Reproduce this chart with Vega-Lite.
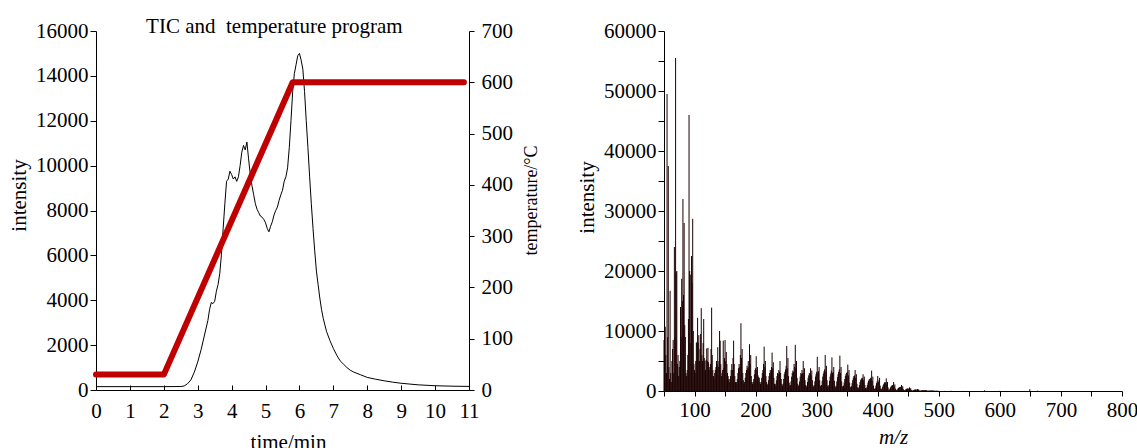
{
"$schema": "https://vega.github.io/schema/vega-lite/v6.json",
"autosize": {"type": "pad"},
"padding": {"left": 8, "top": 16, "right": 0, "bottom": 0},
"bounds": "flush",
"spacing": 195,
"config": {
  "view": {"stroke": null},
  "font": "Liberation Serif",
  "axis": {"labelFont": "Liberation Serif", "labelFontSize": 21, "titleFont": "Liberation Serif", "titleFontSize": 21, "titleFontWeight": "normal", "labelColor": "black", "titleColor": "black", "domainColor": "black", "tickColor": "black", "grid": false, "labelFlush": false, "labelOverlap": false, "domainWidth": 1, "tickWidth": 1}
},
"datasets": {
  "tic": [
{"t":0,"I":150},{"t":1,"I":150},{"t":2,"I":150},{"t":2.5,"I":155},{"t":2.6,"I":180},{"t":2.7,"I":280},{"t":2.8,"I":450},{"t":2.9,"I":800},{"t":3.0,"I":1250},{"t":3.1,"I":1800},{"t":3.2,"I":2450},{"t":3.3,"I":3100},{"t":3.35,"I":3600},{"t":3.4,"I":3900},{"t":3.45,"I":3850},{"t":3.5,"I":3950},{"t":3.55,"I":4400},{"t":3.6,"I":4700},{"t":3.65,"I":5200},{"t":3.7,"I":6050},{"t":3.75,"I":7200},{"t":3.8,"I":8300},{"t":3.85,"I":9300},{"t":3.9,"I":9400},{"t":3.95,"I":9750},{"t":4.0,"I":9600},{"t":4.05,"I":9400},{"t":4.1,"I":9500},{"t":4.15,"I":9300},{"t":4.2,"I":9500},{"t":4.25,"I":10000},{"t":4.3,"I":10600},{"t":4.35,"I":10900},{"t":4.4,"I":10700},{"t":4.45,"I":11050},{"t":4.5,"I":10300},{"t":4.55,"I":9600},{"t":4.6,"I":9100},{"t":4.65,"I":8700},{"t":4.7,"I":8300},{"t":4.75,"I":8050},{"t":4.8,"I":7900},{"t":4.85,"I":7750},{"t":4.9,"I":7700},{"t":4.95,"I":7600},{"t":5.0,"I":7450},{"t":5.05,"I":7200},{"t":5.1,"I":7050},{"t":5.15,"I":7300},{"t":5.2,"I":7500},{"t":5.25,"I":7800},{"t":5.3,"I":8000},{"t":5.35,"I":8150},{"t":5.4,"I":8450},{"t":5.45,"I":8700},{"t":5.5,"I":8900},{"t":5.55,"I":9300},{"t":5.6,"I":9500},{"t":5.65,"I":9900},{"t":5.7,"I":10800},{"t":5.75,"I":12000},{"t":5.8,"I":13300},{"t":5.85,"I":14100},{"t":5.9,"I":14500},{"t":5.95,"I":14900},{"t":6.0,"I":15000},{"t":6.05,"I":14700},{"t":6.1,"I":14300},{"t":6.15,"I":13300},{"t":6.2,"I":12000},{"t":6.25,"I":10800},{"t":6.3,"I":9500},{"t":6.35,"I":8300},{"t":6.4,"I":7200},{"t":6.45,"I":6200},{"t":6.5,"I":5300},{"t":6.55,"I":4700},{"t":6.6,"I":4100},{"t":6.65,"I":3600},{"t":6.7,"I":3200},{"t":6.8,"I":2600},{"t":6.9,"I":2200},{"t":7.0,"I":1850},{"t":7.1,"I":1550},{"t":7.2,"I":1300},{"t":7.3,"I":1150},{"t":7.4,"I":1000},{"t":7.5,"I":880},{"t":7.6,"I":800},{"t":7.8,"I":680},{"t":8.0,"I":560},{"t":8.25,"I":480},{"t":8.5,"I":410},{"t":8.75,"I":350},{"t":9.0,"I":300},{"t":9.5,"I":230},{"t":10.0,"I":190},{"t":10.5,"I":170},{"t":11.0,"I":160}
  ],
  "temp": [{"t":0,"T":30},{"t":2,"T":30},{"t":5.8,"T":600},{"t":10.85,"T":600}],
  "ms": [
{"m":50,"i":8500},{"m":51,"i":10500},{"m":52,"i":10700},{"m":53,"i":6000},{"m":54,"i":3000},{"m":55,"i":49500},{"m":56,"i":9000},{"m":57,"i":37500},{"m":58,"i":4000},{"m":59,"i":2000},
{"m":60,"i":16700},{"m":61,"i":3000},{"m":62,"i":1500},{"m":63,"i":5000},{"m":64,"i":7000},{"m":65,"i":8500},{"m":66,"i":3000},{"m":67,"i":24000},{"m":68,"i":9000},{"m":69,"i":55500},
{"m":70,"i":19800},{"m":71,"i":20000},{"m":72,"i":4500},{"m":73,"i":6000},{"m":74,"i":2500},{"m":75,"i":4000},{"m":76,"i":5000},{"m":77,"i":14000},{"m":78,"i":9000},{"m":79,"i":18700},
{"m":80,"i":15000},{"m":81,"i":32000},{"m":82,"i":16000},{"m":83,"i":28000},{"m":84,"i":11000},{"m":85,"i":9000},{"m":86,"i":3000},{"m":87,"i":2500},{"m":88,"i":3500},{"m":89,"i":6000},
{"m":90,"i":12000},{"m":91,"i":46000},{"m":92,"i":20000},{"m":93,"i":19400},{"m":94,"i":8000},{"m":95,"i":22500},{"m":96,"i":18000},{"m":97,"i":28700},{"m":98,"i":10000},{"m":99,"i":4500},
{"m":100,"i":3500},{"m":101,"i":3000},{"m":102,"i":5000},{"m":103,"i":8000},{"m":104,"i":8200},{"m":105,"i":12200},{"m":106,"i":8000},{"m":107,"i":9300},{"m":108,"i":5000},{"m":109,"i":7000},
{"m":110,"i":9500},{"m":111,"i":13800},{"m":112,"i":6000},{"m":113,"i":5000},{"m":114,"i":8000},{"m":115,"i":12000},{"m":116,"i":5500},{"m":117,"i":5000},{"m":118,"i":3500},{"m":119,"i":5200},
{"m":120,"i":7100},{"m":121,"i":5000},{"m":122,"i":7200},{"m":123,"i":4800},{"m":124,"i":3500},{"m":125,"i":4000},{"m":126,"i":4500},{"m":127,"i":7000},{"m":128,"i":13900},{"m":129,"i":6000},
{"m":130,"i":3500},{"m":131,"i":2500},{"m":132,"i":2000},{"m":133,"i":3000},{"m":134,"i":3500},{"m":135,"i":4000},{"m":136,"i":5000},{"m":137,"i":4500},{"m":138,"i":7300},{"m":139,"i":4000},
{"m":140,"i":5000},{"m":141,"i":10000},{"m":142,"i":8400},{"m":143,"i":4500},{"m":144,"i":2500},{"m":145,"i":3000},{"m":146,"i":3500},{"m":147,"i":8400},{"m":148,"i":3800},{"m":149,"i":5500},
{"m":150,"i":8500},{"m":151,"i":5000},{"m":152,"i":6500},{"m":153,"i":4500},{"m":154,"i":3000},{"m":155,"i":2500},{"m":156,"i":2000},{"m":157,"i":1500},
{"m":158,"i":2000},{"m":159,"i":2500},{"m":160,"i":3500},{"m":161,"i":4500},{"m":162,"i":3500},{"m":163,"i":5500},{"m":164,"i":8400},{"m":165,"i":4500},{"m":166,"i":2500},{"m":167,"i":1500},
{"m":168,"i":1200},{"m":169,"i":1500},{"m":170,"i":2000},{"m":171,"i":3000},{"m":172,"i":3800},{"m":173,"i":4500},{"m":174,"i":4000},{"m":175,"i":6000},{"m":176,"i":11300},{"m":177,"i":5500},
{"m":178,"i":7000},{"m":179,"i":3000},{"m":180,"i":1800},{"m":181,"i":1200},{"m":182,"i":1500},{"m":183,"i":2200},{"m":184,"i":3000},{"m":185,"i":3500},{"m":186,"i":4200},{"m":187,"i":3800},
{"m":188,"i":5000},{"m":189,"i":4000},{"m":190,"i":7800},{"m":191,"i":4500},{"m":192,"i":6000},{"m":193,"i":2500},{"m":194,"i":1500},{"m":195,"i":1200},{"m":196,"i":1500},{"m":197,"i":2000},
{"m":198,"i":2800},{"m":199,"i":3500},{"m":200,"i":3800},{"m":201,"i":5800},{"m":202,"i":3500},{"m":203,"i":4000},{"m":204,"i":2600},{"m":205,"i":2300},{"m":206,"i":2200},{"m":207,"i":1500},
{"m":208,"i":1200},{"m":209,"i":1500},{"m":210,"i":2200},{"m":211,"i":3000},{"m":212,"i":3500},{"m":213,"i":4500},{"m":214,"i":7400},{"m":215,"i":4000},{"m":216,"i":5000},{"m":217,"i":2500},
{"m":218,"i":1500},{"m":219,"i":1000},{"m":220,"i":1200},{"m":221,"i":1800},{"m":222,"i":2500},{"m":223,"i":3000},{"m":224,"i":3500},{"m":225,"i":3200},{"m":226,"i":4000},{"m":227,"i":6400},
{"m":228,"i":3800},{"m":229,"i":4800},{"m":230,"i":2200},{"m":231,"i":1200},{"m":232,"i":900},{"m":233,"i":1200},{"m":234,"i":1800},{"m":235,"i":2500},{"m":236,"i":3000},{"m":237,"i":2800},
{"m":238,"i":3500},{"m":239,"i":3200},{"m":240,"i":5000},{"m":241,"i":3000},{"m":242,"i":2000},{"m":243,"i":1200},{"m":244,"i":900},{"m":245,"i":1200},{"m":246,"i":2000},{"m":247,"i":2800},
{"m":248,"i":3200},{"m":249,"i":3600},{"m":250,"i":4200},{"m":251,"i":7500},{"m":252,"i":3800},{"m":253,"i":5500},{"m":254,"i":2500},{"m":255,"i":1400},{"m":256,"i":900},{"m":257,"i":1000},
{"m":258,"i":1600},{"m":259,"i":2400},{"m":260,"i":3000},{"m":261,"i":3400},{"m":262,"i":3200},{"m":263,"i":4500},{"m":264,"i":4000},{"m":265,"i":7700},{"m":266,"i":3800},{"m":267,"i":5000},
{"m":268,"i":2200},{"m":269,"i":1200},{"m":270,"i":800},{"m":271,"i":1000},{"m":272,"i":1600},{"m":273,"i":2400},{"m":274,"i":3000},{"m":275,"i":2800},{"m":276,"i":3500},{"m":277,"i":3000},
{"m":278,"i":5000},{"m":279,"i":3000},{"m":280,"i":3800},{"m":281,"i":1800},{"m":282,"i":1000},{"m":283,"i":700},{"m":284,"i":900},{"m":285,"i":1500},{"m":286,"i":2200},{"m":287,"i":2600},
{"m":288,"i":3000},{"m":289,"i":2700},{"m":290,"i":3800},{"m":291,"i":2600},{"m":292,"i":3400},{"m":293,"i":1800},{"m":294,"i":900},{"m":295,"i":700},{"m":296,"i":1000},{"m":297,"i":1600},
{"m":298,"i":2400},{"m":299,"i":2800},{"m":300,"i":3200},{"m":301,"i":5700},{"m":302,"i":3000},{"m":303,"i":3300},{"m":304,"i":4000},{"m":305,"i":1800},{"m":306,"i":900},{"m":307,"i":700},
{"m":308,"i":1000},{"m":309,"i":1700},{"m":310,"i":2400},{"m":311,"i":2900},{"m":312,"i":3300},{"m":313,"i":3600},{"m":314,"i":6000},{"m":315,"i":3200},{"m":316,"i":4200},{"m":317,"i":1800},
{"m":318,"i":900},{"m":319,"i":700},{"m":320,"i":1000},{"m":321,"i":1700},{"m":322,"i":2400},{"m":323,"i":2900},{"m":324,"i":3400},{"m":325,"i":5600},{"m":326,"i":3000},{"m":327,"i":3200},
{"m":328,"i":4000},{"m":329,"i":1700},{"m":330,"i":800},{"m":331,"i":600},{"m":332,"i":900},{"m":333,"i":1600},{"m":334,"i":2300},{"m":335,"i":2800},{"m":336,"i":3200},{"m":337,"i":3600},
{"m":338,"i":5900},{"m":339,"i":3000},{"m":340,"i":4000},{"m":341,"i":1600},{"m":342,"i":800},{"m":343,"i":600},{"m":344,"i":900},{"m":345,"i":1400},{"m":346,"i":2000},{"m":347,"i":2500},
{"m":348,"i":2800},{"m":349,"i":3000},{"m":350,"i":3200},{"m":351,"i":4400},{"m":352,"i":2600},{"m":353,"i":3500},{"m":354,"i":1400},{"m":355,"i":700},{"m":356,"i":500},{"m":357,"i":800},
{"m":358,"i":1300},{"m":359,"i":1800},{"m":360,"i":2200},{"m":361,"i":2500},{"m":362,"i":2600},{"m":363,"i":3500},{"m":364,"i":2200},{"m":365,"i":2800},{"m":366,"i":1200},{"m":367,"i":600},
{"m":368,"i":400},{"m":369,"i":600},{"m":370,"i":1000},{"m":371,"i":1500},{"m":372,"i":1800},{"m":373,"i":2000},{"m":374,"i":2200},{"m":375,"i":2100},{"m":376,"i":2800},{"m":377,"i":1800},
{"m":378,"i":2400},{"m":379,"i":1000},{"m":380,"i":500},{"m":381,"i":400},{"m":382,"i":600},{"m":383,"i":1000},{"m":384,"i":1400},{"m":385,"i":1700},{"m":386,"i":1900},{"m":387,"i":2000},
{"m":388,"i":2200},{"m":389,"i":2000},{"m":390,"i":3400},{"m":391,"i":1700},{"m":392,"i":2400},{"m":393,"i":900},{"m":394,"i":400},{"m":395,"i":300},{"m":396,"i":500},{"m":397,"i":900},
{"m":398,"i":1300},{"m":399,"i":1600},{"m":400,"i":2500},{"m":401,"i":1500},{"m":402,"i":1800},{"m":403,"i":2200},{"m":404,"i":900},{"m":405,"i":400},{"m":406,"i":300},{"m":407,"i":400},
{"m":408,"i":700},{"m":409,"i":1000},{"m":410,"i":1200},{"m":411,"i":1400},{"m":412,"i":1500},{"m":413,"i":1400},{"m":414,"i":2100},{"m":415,"i":1100},{"m":416,"i":1500},{"m":417,"i":600},
{"m":418,"i":250},{"m":419,"i":200},{"m":420,"i":400},{"m":421,"i":600},{"m":422,"i":800},{"m":423,"i":900},{"m":424,"i":1000},{"m":425,"i":950},{"m":426,"i":1500},{"m":427,"i":800},
{"m":428,"i":1100},{"m":429,"i":400},{"m":430,"i":200},{"m":431,"i":150},{"m":432,"i":250},{"m":433,"i":400},{"m":434,"i":500},{"m":435,"i":600},{"m":436,"i":650},{"m":437,"i":700},
{"m":438,"i":650},{"m":439,"i":1000},{"m":440,"i":550},{"m":441,"i":800},{"m":442,"i":300},{"m":443,"i":120},{"m":444,"i":100},{"m":445,"i":180},{"m":446,"i":280},{"m":447,"i":350},
{"m":448,"i":400},{"m":449,"i":420},{"m":450,"i":400},{"m":451,"i":380},{"m":452,"i":600},{"m":453,"i":350},{"m":454,"i":450},{"m":455,"i":180},{"m":456,"i":80},{"m":457,"i":60},
{"m":458,"i":120},{"m":459,"i":180},{"m":460,"i":220},{"m":461,"i":240},{"m":462,"i":250},{"m":463,"i":230},{"m":464,"i":220},{"m":465,"i":330},{"m":466,"i":200},{"m":467,"i":260},
{"m":468,"i":100},{"m":469,"i":50},{"m":470,"i":60},{"m":471,"i":90},{"m":472,"i":110},{"m":473,"i":130},{"m":474,"i":140},{"m":475,"i":130},{"m":476,"i":120},{"m":477,"i":110},
{"m":478,"i":170},{"m":479,"i":100},{"m":480,"i":130},{"m":481,"i":60},{"m":482,"i":40},{"m":483,"i":50},{"m":484,"i":60},{"m":485,"i":70},{"m":486,"i":80},{"m":487,"i":80},
{"m":488,"i":70},{"m":489,"i":60},{"m":490,"i":100},{"m":491,"i":60},{"m":492,"i":70},{"m":493,"i":30},{"m":494,"i":30},{"m":495,"i":40},{"m":496,"i":40},{"m":497,"i":40},
{"m":498,"i":30},{"m":500,"i":30},{"m":510,"i":20},{"m":520,"i":40},{"m":540,"i":20},{"m":575,"i":120},{"m":600,"i":30},{"m":649,"i":300},{"m":662,"i":60}
  ],
  "ttl": [{"label": "TIC and\u00a0 temperature program"}]
},
"hconcat": [
  {
    "width": 373, "height": 359,
    "layer": [
      {
        "data": {"name": "tic"},
        "mark": {"type": "line", "color": "black", "strokeWidth": 1},
        "encoding": {
          "x": {"field": "t", "type": "quantitative", "scale": {"domain": [0, 11], "nice": false},
                "axis": {"title": "time/min", "values": [0,1,2,3,4,5,6,7,8,9,10,11], "tickCount": 12, "labelOverlap": false, "labelSeparation": 0, "tickSize": -5, "labelPadding": 15, "titlePadding": 10, "titleX": 192}},
          "y": {"field": "I", "type": "quantitative", "scale": {"domain": [0, 16000], "nice": false},
                "axis": {"title": "intensity", "values": [0,2000,4000,6000,8000,10000,12000,14000,16000], "format": "d", "labelOverlap": false, "tickSize": 6, "labelPadding": 2, "titlePadding": 6, "titleY": 164}}
        }
      },
      {
        "data": {"name": "temp"},
        "mark": {"type": "line", "color": "#c00000", "strokeWidth": 6, "strokeCap": "round", "strokeJoin": "round"},
        "encoding": {
          "x": {"field": "t", "type": "quantitative",
                "axis": {"title": "time/min", "values": [0,1,2,3,4,5,6,7,8,9,10,11], "tickCount": 12, "labelOverlap": false, "labelSeparation": 0, "tickSize": -5, "labelPadding": 15, "titlePadding": 10, "titleX": 192}},
          "y": {"field": "T", "type": "quantitative", "scale": {"domain": [0, 700], "nice": false},
                "axis": {"orient": "right", "title": "temperature/°C", "titleFontSize": 18, "titleAngle": 270, "titleBaseline": "top", "titleY": 169, "values": [0,100,200,300,400,500,600,700], "format": "d", "labelOverlap": false, "tickSize": 5, "labelPadding": 7, "titlePadding": 10}}
        }
      },
      {
        "data": {"name": "ttl"},
        "mark": {"type": "text", "font": "Liberation Serif", "fontSize": 21, "baseline": "alphabetic", "align": "center", "color": "black"},
        "encoding": {
          "text": {"field": "label"},
          "x": {"datum": 5.26, "type": "quantitative",
                "axis": {"title": "time/min", "values": [0,1,2,3,4,5,6,7,8,9,10,11], "tickCount": 12, "labelOverlap": false, "labelSeparation": 0, "tickSize": -5, "labelPadding": 15, "titlePadding": 10, "titleX": 192}},
          "y": {"datum": 15910, "type": "quantitative", "scale": {"domain": [0, 16000], "nice": false}, "axis": null}
        }
      }
    ],
    "resolve": {"scale": {"y": "independent"}}
  },
  {
    "width": 458, "height": 360,
    "data": {"name": "ms"},
    "mark": {"type": "rule", "color": "#1c0202", "strokeWidth": 1},
    "encoding": {
      "x": {"field": "m", "type": "quantitative", "scale": {"domain": [50, 800], "nice": false},
            "axis": {"title": "m/z", "titleFontStyle": "italic", "values": [50,100,150,200,250,300,350,400,450,500,550,600,650,700,750,800], "labelExpr": "datum.value % 100 === 0 ? datum.label : ''", "labelOverlap": false, "tickSize": 5, "labelPadding": 3, "titlePadding": 6}},
      "y": {"field": "i", "type": "quantitative", "scale": {"domain": [0, 60000], "nice": false},
            "axis": {"title": "intensity", "values": [0,5000,10000,15000,20000,25000,30000,35000,40000,45000,50000,55000,60000], "format": "d", "labelExpr": "datum.value % 10000 === 0 ? datum.label : ''", "labelOverlap": false, "tickSize": 6, "labelPadding": 2, "titlePadding": 6, "titleY": 166}},
      "y2": {"datum": 0}
    }
  }
]
}
